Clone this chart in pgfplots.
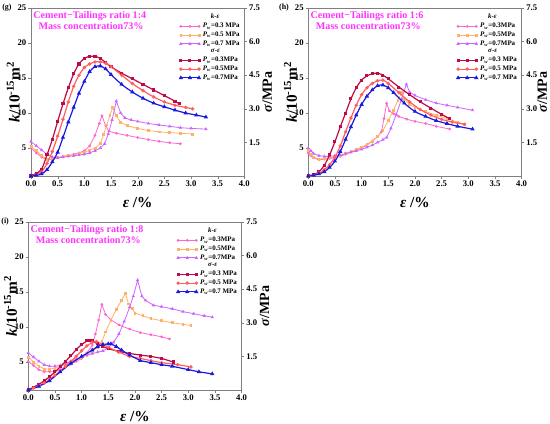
\documentclass[border=0pt]{standalone}
\usepackage{fontspec}
\setmainfont{Liberation Serif}
\usepackage{pgfplots}
\pgfplotsset{compat=1.18}
\definecolor{kpink}{RGB}{255,102,204}
\definecolor{korange}{RGB}{255,178,102}
\definecolor{kpurple}{RGB}{204,102,255}
\definecolor{scrim}{RGB}{190,10,70}
\definecolor{ssal}{RGB}{255,95,95}
\definecolor{sblue}{RGB}{25,25,225}
\definecolor{mag}{RGB}{255,51,255}
\newcommand\tlf{\fontsize{6.5}{7.5}\selectfont\bfseries}
\newcommand\alf{\fontsize{11.5}{12.5}\selectfont\bfseries}
\newcommand\slf{\fontsize{10.5}{11.5}\selectfont\bfseries}
\newcommand\lgf{\fontsize{5.2}{6}\selectfont\bfseries}
\newcommand\Pw{\textit{P}\textsubscript{\textit{w}}}
\tikzset{
  kp/.style={kpink, line width=0.6pt, mark=*, mark size=0.7pt},
  ko/.style={korange, line width=0.6pt, mark=square*, mark size=0.7pt},
  kv/.style={kpurple, line width=0.6pt, mark=triangle*, mark size=0.9pt},
  sc/.style={scrim, line width=0.9pt, mark=square*, mark size=0.7pt},
  ss/.style={ssal, line width=0.9pt, mark=*, mark size=0.8pt},
  sb/.style={sblue, line width=0.9pt, mark=triangle*, mark size=1pt},
  boxtxt/.style={anchor=north west, align=left, text=mag, font=\fontsize{7.6}{8.2}\selectfont\bfseries, inner xsep=1.5pt, inner ysep=2.5pt},
  plab/.style={anchor=east, font=\fontsize{6}{7}\selectfont\bfseries, xshift=-11pt},
}
\pgfplotsset{
  base/.style={scale only axis, width=160pt, height=126pt, xmin=0, xmax=4,
    tick align=outside, major tick length=2pt, tick style={gray},
    axis line style={gray}, tick label style={font=\tlf, inner sep=1.3pt},
    /pgf/number format/assume math mode=true},
  kax/.style={base, ymin=1, ymax=25, ytick={5,10,15,20,25},
    xtick={0,0.5,1,1.5,2,2.5,3,3.5,4}, ytick pos=left, xtick pos=bottom,
    xticklabel style={/pgf/number format/.cd, fixed, fixed zerofill, precision=1},
    xlabel={\alf\textit{ε} /\%}, ylabel={\alf\textit{k}/10\textsuperscript{-15}m\textsuperscript{2}},
    ylabel style={at={(axis description cs:-0.083,0.5)}, anchor=center},
    xlabel style={at={(axis description cs:0.5,-0.155)}, anchor=center}, clip=false},
  sax/.style={base, ymin=0, ymax=7.5, axis y line*=right, axis x line=none,
    ytick={1.5,3,4.5,6,7.5},
    yticklabel style={/pgf/number format/.cd, fixed, fixed zerofill, precision=1},
    ylabel={\slf\textit{σ}/MPa},
    ylabel style={at={(axis description cs:1.108,0.5)}, anchor=center},
    legend style={draw=none, fill=none, font=\lgf, at={(rel axis cs:0.995,0.985)},
      anchor=north east, row sep=-2.4pt, inner sep=0.5pt},
    legend cell align=left,
    legend image code/.code={\draw[#1] plot coordinates {(0cm,0cm) (0.24cm,0cm) (0.48cm,0cm)};}},
}
\begin{document}
\begin{tikzpicture}
\useasboundingbox (0,0) rectangle (412.5pt,318pt);
% ---------------- (g) ----------------
\begin{axis}[kax, at={(23.25pt,186pt)}, anchor=south west]
\node[plab] at (rel axis cs:0,1) {(g)};
\node[boxtxt] at (rel axis cs:0,1) {Cement−Tailings ratio 1:4\\\hspace*{4pt}Mass concentration73\%};
\addplot[kp] coordinates {(0,5.0)(0.1,4.3)(0.2,3.7)(0.3,3.3)(0.4,3.4)(0.5,3.6)(0.6,3.8)(0.7,3.9)(0.8,4.1)(0.9,4.3)(1.0,4.6)(1.1,5.3)(1.2,6.8)(1.28,8.5)(1.33,9.6)(1.4,8.2)(1.46,7.4)(1.6,7.1)(1.8,6.8)(2.0,6.5)(2.2,6.2)(2.4,5.95)(2.6,5.75)(2.8,5.6)};
\addplot[ko] coordinates {(0,5.2)(0.1,4.6)(0.2,3.9)(0.3,3.4)(0.4,3.4)(0.5,3.6)(0.6,3.8)(0.7,3.9)(0.8,4.0)(0.9,4.2)(1.0,4.4)(1.1,4.7)(1.2,5.0)(1.3,5.6)(1.36,6.9)(1.42,8.3)(1.48,9.6)(1.53,10.8)(1.6,9.6)(1.68,8.7)(1.8,8.2)(2.0,7.8)(2.2,7.5)(2.4,7.3)(2.6,7.2)(2.8,7.1)(3.03,7.0)};
\addplot[kv] coordinates {(0,5.9)(0.1,5.3)(0.2,4.7)(0.3,4.1)(0.4,3.7)(0.5,3.6)(0.6,3.7)(0.7,3.8)(0.8,3.9)(0.9,4.0)(1.0,4.1)(1.1,4.3)(1.2,4.6)(1.3,5.0)(1.38,5.6)(1.45,7.0)(1.52,9.0)(1.6,11.7)(1.68,10.0)(1.76,9.3)(1.88,9.0)(2.0,8.8)(2.2,8.5)(2.4,8.3)(2.6,8.1)(2.8,7.9)(3.0,7.8)(3.28,7.7)};
\end{axis}
\begin{axis}[sax, at={(23.25pt,186pt)}, anchor=south west]
\addlegendimage{empty legend}\addlegendentry{\hspace*{6pt}\textit{k}-\textit{ε}}
\addlegendimage{kp}\addlegendentry{\Pw=0.3 MPa}
\addlegendimage{ko}\addlegendentry{\Pw=0.5 MPa}
\addlegendimage{kv}\addlegendentry{\Pw=0.7 MPa}
\addlegendimage{empty legend}\addlegendentry{\hspace*{6pt}\textit{σ}-\textit{ε}}
\addplot[sc, smooth] coordinates {(0,0)(0.1,0.12)(0.2,0.31)(0.3,0.94)(0.4,1.63)(0.5,2.44)(0.6,3.22)(0.7,3.94)(0.8,4.56)(0.9,5.00)(1.0,5.25)(1.1,5.34)(1.2,5.34)(1.3,5.25)(1.4,5.06)(1.5,4.88)(1.7,4.59)(1.9,4.34)(2.1,4.09)(2.3,3.84)(2.5,3.59)(2.7,3.34)(2.78,3.22)};
\addlegendentry{\Pw=0.3MPa}
\addplot[ss, smooth] coordinates {(0,0)(0.1,0.06)(0.2,0.19)(0.3,0.56)(0.4,1.09)(0.5,1.78)(0.6,2.53)(0.7,3.31)(0.8,4.00)(0.9,4.50)(1.0,4.84)(1.1,5.00)(1.2,5.09)(1.3,5.09)(1.4,5.03)(1.5,4.88)(1.7,4.50)(1.9,4.13)(2.1,3.81)(2.3,3.53)(2.5,3.31)(2.7,3.16)(2.9,3.06)(3.03,3.00)};
\addlegendentry{\Pw=0.5MPa}
\addplot[sb, smooth] coordinates {(0,0)(0.1,0.03)(0.2,0.09)(0.3,0.28)(0.4,0.63)(0.5,1.06)(0.6,1.72)(0.7,2.41)(0.8,3.06)(0.9,3.69)(1.0,4.22)(1.1,4.66)(1.2,4.88)(1.3,4.91)(1.4,4.78)(1.5,4.53)(1.7,4.09)(1.9,3.75)(2.1,3.47)(2.3,3.25)(2.5,3.09)(2.7,2.94)(2.9,2.81)(3.1,2.72)(3.28,2.63)};
\addlegendentry{\Pw=0.7MPa}
\end{axis}
% ---------------- (h) ----------------
\begin{axis}[kax, at={(231.2pt,186pt)}, anchor=south west]
\node[plab] at (rel axis cs:0,1) {(h)};
\node[boxtxt] at (rel axis cs:0,1) {Cement−Tailings ratio 1:6\\\hspace*{4pt}Mass concentration73\%};
\addplot[kp] coordinates {(0,4.3)(0.05,3.9)(0.1,3.6)(0.2,3.3)(0.3,3.4)(0.4,3.5)(0.5,3.6)(0.6,3.8)(0.7,4.1)(0.8,4.4)(0.9,4.7)(1.0,5.0)(1.1,5.4)(1.2,6.0)(1.3,6.6)(1.37,7.3)(1.42,9.2)(1.47,11.4)(1.52,10.3)(1.6,9.9)(1.7,9.5)(1.85,9.1)(2.0,8.8)(2.2,8.5)(2.4,8.1)(2.65,7.7)};
\addplot[ko] coordinates {(0,4.6)(0.05,4.1)(0.1,3.7)(0.2,3.4)(0.3,3.5)(0.4,3.6)(0.5,3.7)(0.6,3.9)(0.7,4.2)(0.8,4.5)(0.9,4.8)(1.0,5.1)(1.1,5.5)(1.2,6.0)(1.3,6.6)(1.4,7.5)(1.5,8.9)(1.6,10.4)(1.68,11.8)(1.75,12.9)(1.8,12.0)(1.9,11.2)(2.0,10.8)(2.2,10.2)(2.4,9.7)(2.6,9.2)(2.8,8.7)(2.93,8.4)};
\addplot[kv] coordinates {(0,5.0)(0.05,4.6)(0.1,4.2)(0.2,3.9)(0.3,3.8)(0.4,3.8)(0.5,3.9)(0.6,4.0)(0.7,4.2)(0.8,4.4)(0.9,4.6)(1.0,4.8)(1.1,5.1)(1.2,5.4)(1.3,5.8)(1.4,6.2)(1.47,6.5)(1.55,7.8)(1.65,9.8)(1.75,12.0)(1.84,14.1)(1.9,13.0)(2.0,12.5)(2.2,11.9)(2.4,11.4)(2.6,11.1)(2.8,10.8)(3.08,10.4)};
\end{axis}
\begin{axis}[sax, at={(231.2pt,186pt)}, anchor=south west, ylabel style={at={(axis description cs:1.097,0.5)}}]
\addlegendimage{empty legend}\addlegendentry{\hspace*{6pt}\textit{k}-\textit{ε}}
\addlegendimage{kp}\addlegendentry{\Pw=0.3MPa}
\addlegendimage{ko}\addlegendentry{\Pw=0.5MPa}
\addlegendimage{kv}\addlegendentry{\Pw=0.7MPa}
\addlegendimage{empty legend}\addlegendentry{\hspace*{6pt}\textit{σ}-\textit{ε}}
\addplot[sc, smooth] coordinates {(0,0)(0.1,0.06)(0.2,0.19)(0.3,0.47)(0.4,0.94)(0.5,1.53)(0.6,2.19)(0.7,2.81)(0.8,3.44)(0.9,3.94)(1.0,4.28)(1.1,4.47)(1.2,4.56)(1.3,4.59)(1.4,4.50)(1.5,4.34)(1.7,3.97)(1.9,3.63)(2.1,3.31)(2.3,3.03)(2.5,2.75)(2.65,2.56)};
\addlegendentry{\Pw=0.3 MPa}
\addplot[ss, smooth] coordinates {(0,0)(0.1,0.03)(0.2,0.13)(0.3,0.28)(0.4,0.50)(0.5,0.84)(0.6,1.34)(0.7,1.97)(0.8,2.59)(0.9,3.16)(1.0,3.63)(1.1,3.94)(1.2,4.13)(1.3,4.25)(1.4,4.28)(1.5,4.13)(1.7,3.72)(1.9,3.31)(2.1,2.97)(2.3,2.72)(2.5,2.53)(2.7,2.41)(2.93,2.31)};
\addlegendentry{\Pw=0.5 MPa}
\addplot[sb, smooth] coordinates {(0,0)(0.1,0.03)(0.2,0.09)(0.3,0.19)(0.4,0.38)(0.5,0.66)(0.6,1.09)(0.7,1.63)(0.8,2.19)(0.9,2.72)(1.0,3.19)(1.1,3.56)(1.2,3.84)(1.3,4.03)(1.4,4.06)(1.5,3.94)(1.6,3.72)(1.8,3.25)(2.0,2.88)(2.2,2.66)(2.4,2.47)(2.6,2.34)(2.8,2.22)(3.08,2.09)};
\addlegendentry{\Pw=0.7 MPa}
\end{axis}
% ---------------- (i) ----------------
\begin{axis}[kax, at={(21.2pt,25.5pt)}, anchor=south west]
\node[plab] at (rel axis cs:0,1) {(i)};
\node[boxtxt] at (rel axis cs:0,1) {Cement−Tailings ratio 1:8\\\hspace*{4pt}Mass concentration73\%};
\addplot[kp] coordinates {(0,5.1)(0.1,4.5)(0.2,3.9)(0.3,3.6)(0.4,3.6)(0.5,3.6)(0.6,3.9)(0.7,4.3)(0.8,4.7)(0.9,5.1)(1.0,5.5)(1.1,6.3)(1.2,7.4)(1.26,9.0)(1.32,11.0)(1.38,13.2)(1.45,11.8)(1.55,11.0)(1.7,10.3)(1.9,9.7)(2.1,9.2)(2.3,8.9)(2.5,8.6)(2.65,8.3)};
\addplot[ko] coordinates {(0,5.7)(0.1,5.0)(0.2,4.4)(0.3,4.0)(0.4,4.0)(0.5,4.1)(0.6,4.4)(0.7,4.7)(0.8,5.0)(0.9,5.3)(1.0,5.6)(1.1,6.0)(1.2,6.5)(1.3,7.1)(1.38,7.9)(1.45,9.3)(1.55,11.0)(1.65,12.5)(1.75,13.8)(1.82,14.8)(1.88,13.3)(1.95,12.6)(2.0,12.0)(2.15,11.6)(2.3,11.2)(2.5,10.9)(2.7,10.6)(2.9,10.4)(3.05,10.2)};
\addplot[kv] coordinates {(0,6.3)(0.1,5.7)(0.2,5.1)(0.3,4.6)(0.4,4.4)(0.5,4.4)(0.6,4.5)(0.7,4.8)(0.8,5.1)(0.9,5.4)(1.0,5.7)(1.1,6.0)(1.2,6.2)(1.3,6.4)(1.4,6.6)(1.5,7.0)(1.6,7.8)(1.7,9.0)(1.8,10.8)(1.9,12.8)(1.97,14.4)(2.05,16.7)(2.13,14.4)(2.2,13.8)(2.35,13.1)(2.5,12.9)(2.7,12.6)(2.9,12.2)(3.1,11.9)(3.3,11.6)(3.45,11.4)};
\end{axis}
\begin{axis}[sax, at={(21.2pt,25.5pt)}, anchor=south west]
\addlegendimage{empty legend}\addlegendentry{\hspace*{6pt}\textit{k}-\textit{ε}}
\addlegendimage{kp}\addlegendentry{\Pw=0.3MPa}
\addlegendimage{ko}\addlegendentry{\Pw=0.5MPa}
\addlegendimage{kv}\addlegendentry{\Pw=0.7MPa}
\addlegendimage{empty legend}\addlegendentry{\hspace*{6pt}\textit{σ}-\textit{ε}}
\addplot[sc] coordinates {(0,0)(0.1,0.13)(0.2,0.25)(0.3,0.41)(0.4,0.59)(0.5,0.81)(0.6,1.03)(0.7,1.28)(0.8,1.53)(0.9,1.81)(1.0,2.03)(1.1,2.19)(1.15,2.22)(1.2,2.19)(1.3,2.06)(1.4,1.94)(1.5,1.84)(1.7,1.72)(1.9,1.63)(2.1,1.56)(2.3,1.50)(2.5,1.41)(2.72,1.25)};
\addlegendentry{\Pw=0.3 MPa}
\addplot[ss] coordinates {(0,0)(0.1,0.09)(0.2,0.19)(0.3,0.31)(0.4,0.47)(0.5,0.66)(0.6,0.84)(0.7,1.06)(0.8,1.28)(0.9,1.50)(1.0,1.75)(1.1,1.97)(1.2,2.13)(1.28,2.16)(1.4,2.03)(1.5,1.91)(1.7,1.69)(1.9,1.50)(2.1,1.41)(2.3,1.31)(2.5,1.22)(2.8,1.13)(3.05,1.03)};
\addlegendentry{\Pw=0.5 MPa}
\addplot[sb] coordinates {(0,0)(0.2,0.16)(0.4,0.41)(0.6,0.81)(0.8,1.19)(1.0,1.50)(1.2,1.78)(1.3,1.94)(1.4,2.03)(1.5,2.06)(1.55,2.06)(1.65,1.94)(1.75,1.78)(1.9,1.56)(2.1,1.31)(2.3,1.22)(2.5,1.13)(2.7,1.06)(3.0,0.91)(3.2,0.81)(3.45,0.72)};
\addlegendentry{\Pw=0.7 MPa}
\end{axis}
\end{tikzpicture}
\end{document}
